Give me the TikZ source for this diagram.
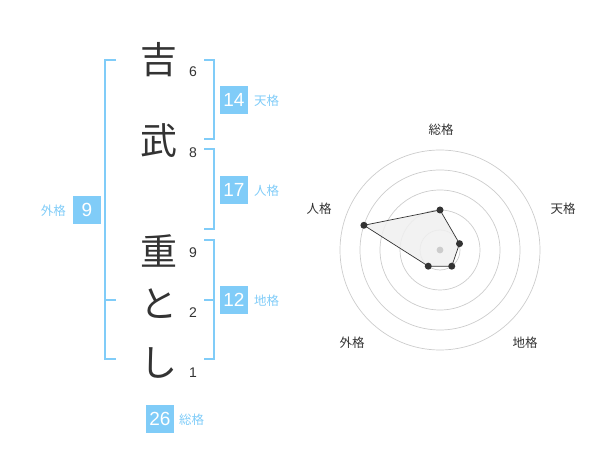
\documentclass[tikz,border=0pt]{standalone}
\usepackage{fontspec}
\usetikzlibrary{calc}
\setmainfont{Noto Sans CJK JP}
\newfontfamily\jpf{Noto Sans CJK JP}
\newfontfamily\numf{Liberation Sans}
\definecolor{bl}{HTML}{80CCF8}
\definecolor{dk}{HTML}{333333}
\definecolor{gr}{HTML}{CCCCCC}
\begin{document}
\begin{tikzpicture}[x=1pt,y=-1pt,
  kanji/.style={font=\jpf\fontsize{37}{37}\selectfont, text=dk, inner sep=0pt},
  strk/.style={font=\numf\fontsize{14}{14}\selectfont, text=dk, inner sep=0pt},
  box/.style={fill=bl, text=white, minimum width=28pt, minimum height=28pt, inner sep=0pt, font=\numf\fontsize{19}{19}\selectfont},
  blab/.style={text=bl, font=\jpf\fontsize{12.5}{12.5}\selectfont, inner sep=0pt, anchor=west},
  rlab/.style={text=dk, font=\jpf\fontsize{12.5}{12.5}\selectfont, inner sep=0pt},
  brk/.style={draw=bl, line width=1.8pt},
  ring/.style={draw=gr, line width=0.7pt},
  dot/.style={circle, fill=dk, inner sep=0pt, minimum size=7pt}]
\useasboundingbox (0,0) rectangle (600,470);
% characters
\node[kanji] (c1) at (159,60) {吉};
\node[kanji] (c2) at (159,141) {武};
\node[kanji] (c3) at (159,251) {重};
\node[kanji] (c4) at (159,304) {と};
\node[kanji] (c5) at (159,363) {し};
\node[strk] (n1) at (193,72) {6};
\node[strk] (n2) at (193,153) {8};
\node[strk] (n3) at (193,253) {9};
\node[strk] (n4) at (193,313) {2};
\node[strk] (n5) at (193,373) {1};
% brackets
\draw[brk] (116,60) -- (105,60) -- (105,359) -- (116,359);
\draw[brk] (105,300) -- (116,300);
\draw[brk] (204,60) -- (214,60) -- (214,139) -- (204,139);
\draw[brk] (204,149) -- (214,149) -- (214,229) -- (204,229);
\draw[brk] (204,240) -- (214,240) -- (214,359) -- (204,359);
\draw[brk] (204,300) -- (214,300);
% boxes
\node[box] (b1) at (234,100) {14};
\node[blab] (l1) at (254,101) {天格};
\node[box] (b2) at (234,190) {17};
\node[blab] (l2) at (254,191) {人格};
\node[box] (b3) at (87,210) {9};
\node[blab,anchor=east] (l3) at (66,211) {外格};
\node[box] (b4) at (234,300) {12};
\node[blab] (l4) at (254,301) {地格};
\node[box] (b5) at (160,419) {26};
\node[blab] (l5) at (179,420) {総格};
% radar
\coordinate (C) at (440,250);
\foreach \r in {20,40,60,80,100} \draw[ring] (C) circle (\r);
\coordinate (p1) at ($(C)+(-90:40)$);
\coordinate (p2) at ($(C)+(-18:20.5)$);
\coordinate (p3) at ($(C)+(54:20)$);
\coordinate (p4) at ($(C)+(126:20)$);
\coordinate (p5) at ($(C)+(198:80)$);
\draw[dk, line width=0.7pt, fill=black!6, fill opacity=0.85] (p1) -- (p2) -- (p3) -- (p4) -- (p5) -- cycle;
\fill[gr] (C) circle (3.4);
\foreach \p in {p1,p2,p3,p4,p5} \node[dot] at (\p) {};
\node[rlab] (r1) at (441,130) {総格};
\node[rlab] (r2) at (563,209) {天格};
\node[rlab] (r3) at (525,343) {地格};
\node[rlab] (r4) at (352,343) {外格};
\node[rlab] (r5) at (319,209) {人格};
\end{tikzpicture}
\end{document}
